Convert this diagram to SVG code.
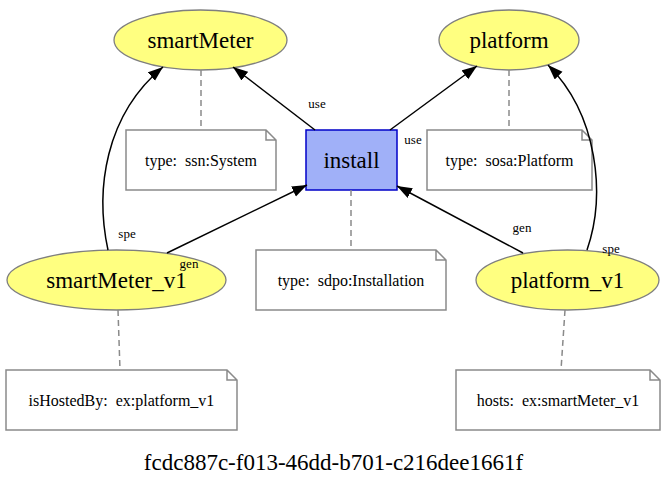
<svg xmlns="http://www.w3.org/2000/svg" width="667" height="479" viewBox="0 0 667 479">
<style>
.ell{fill:#ffff80;stroke:#7f7f7f;stroke-width:1.3}
.note{fill:#fff;stroke:#8a8a8a;stroke-width:1.5}
.dash{stroke:#8a8a8a;stroke-width:1.5;stroke-dasharray:6,4;fill:none}
.edge{stroke:#000;stroke-width:1.5;fill:none}
.nl{font-family:"Liberation Serif",serif;font-size:23px;text-anchor:middle;fill:#000}
.tl{font-family:"Liberation Serif",serif;font-size:16px;text-anchor:middle;fill:#000;white-space:pre}
.el{font-family:"Liberation Serif",serif;font-size:13px;text-anchor:middle;fill:#000}
</style>
<defs>
<marker id="ah" markerUnits="userSpaceOnUse" markerWidth="16" markerHeight="12" refX="15" refY="5.5" orient="auto">
<polygon points="0,0 15,5.5 0,11" fill="#000"/>
</marker>
</defs>
<rect width="667" height="479" fill="#fff"/>
<g id="smartMeter">
<ellipse class="ell" cx="200.5" cy="40" rx="86.5" ry="30"/>
<text class="nl" x="200.5" y="48">smartMeter</text>
</g>
<g id="platform">
<ellipse class="ell" cx="509" cy="40" rx="70" ry="30"/>
<text class="nl" x="509" y="48">platform</text>
</g>
<g id="install">
<rect x="306" y="130" width="91" height="60" fill="#a0b0f8" stroke="#0000c8" stroke-width="1.5"/>
<text class="nl" x="351.5" y="168">install</text>
</g>
<g id="smartMeter_v1">
<ellipse class="ell" cx="116.5" cy="280" rx="109.5" ry="30"/>
<text class="nl" x="116.5" y="288">smartMeter_v1</text>
</g>
<g id="platform_v1">
<ellipse class="ell" cx="567.5" cy="280" rx="91.5" ry="30"/>
<text class="nl" x="567.5" y="288">platform_v1</text>
</g>
<g id="note_smartMeter">
<path class="note" d="M126,130 L266,130 L276,140 L276,190 L126,190 Z M266,130 L266,140 L276,140"/>
<text class="tl" x="201" y="166">type:  ssn:System</text>
</g>
<g id="note_platform">
<path class="note" d="M427,130 L582,130 L592,140 L592,190 L427,190 Z M582,130 L582,140 L592,140"/>
<text class="tl" x="509.5" y="166">type:  sosa:Platform</text>
</g>
<g id="note_install">
<path class="note" d="M256,250 L436,250 L446,260 L446,310 L256,310 Z M436,250 L436,260 L446,260"/>
<text class="tl" x="351" y="286">type:  sdpo:Installation</text>
</g>
<g id="note_smartMeter_v1">
<path class="note" d="M6,370 L227,370 L237,380 L237,430 L6,430 Z M227,370 L227,380 L237,380"/>
<text class="tl" x="121.5" y="406">isHostedBy:  ex:platform_v1</text>
</g>
<g id="note_platform_v1">
<path class="note" d="M456,370 L650,370 L660,380 L660,430 L456,430 Z M650,370 L650,380 L660,380"/>
<text class="tl" x="558" y="406">hosts:  ex:smartMeter_v1</text>
</g>
<g id="connectors">
<path class="edge" d="M315,130 L233,67" marker-end="url(#ah)"/>
<path class="edge" d="M390,130 L477,66" marker-end="url(#ah)"/>
<path class="edge" d="M108,250 C95,190 105,115 163,67" marker-end="url(#ah)"/>
<path class="edge" d="M587,250 C606,195 598,115 548,65" marker-end="url(#ah)"/>
<path class="edge" d="M167,253 L307,185" marker-end="url(#ah)"/>
<path class="edge" d="M523,253 L397,186" marker-end="url(#ah)"/>
<path class="dash" d="M201,70 L201,130"/>
<path class="dash" d="M509,70 L509,130"/>
<path class="dash" d="M351,190 L351,250"/>
<path class="dash" d="M118,310 L120,370"/>
<path class="dash" d="M565,310 L561,370"/>
<text class="el" x="317" y="108">use</text>
<text class="el" x="413" y="144">use</text>
<text class="el" x="127" y="238">spe</text>
<text class="el" x="189" y="268">gen</text>
<text class="el" x="522" y="232">gen</text>
<text class="el" x="611" y="253">spe</text>
</g>
<text x="333.5" y="470" style="font-family:'Liberation Serif',serif;font-size:23px;text-anchor:middle;fill:#000">fcdc887c-f013-46dd-b701-c216dee1661f</text>
</svg>
